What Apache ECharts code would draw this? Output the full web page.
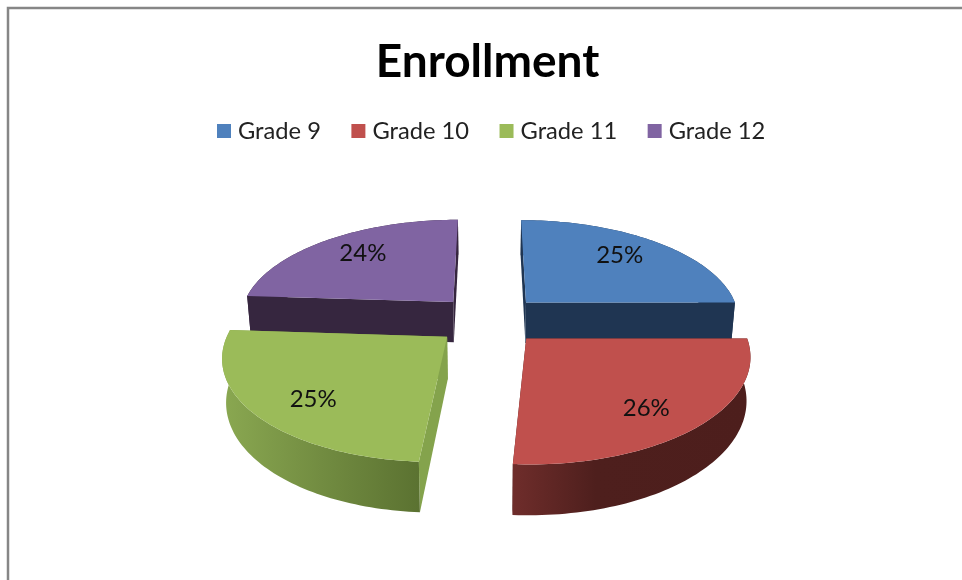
<!DOCTYPE html>
<html><head><meta charset="utf-8">
<style>html,body{margin:0;padding:0;background:#fff}#c{width:962px;height:580px}</style>
<script src="https://cdn.jsdelivr.net/npm/echarts@6/dist/echarts.min.js"></script>
</head><body><div id="c"></div>
<script>
const chartTitle = 'Enrollment';
const grades = ['Grade 9', 'Grade 10', 'Grade 11', 'Grade 12'];
const enrollment = [25, 26, 25, 24];
const topColors = ['#4f81bd', '#c0504d', '#9bbb59', '#8064a2'];
const radialWallColors = ['#1f3552', '#4e1f1d', '#84a34c', '#36263f'];

// Projection of the tilted, exploded pie (unit radius on the ground plane)
const P = {cx: 489, cy: 319.7, sx: 214.7, sy: 100, k: 0.155, skew: 0.015, depth: 41.5, shrink: 0.015, explode: 0.25, labelRx: 0.71, labelRy: 0.8, labelDy: 2};
const total = enrollment.reduce((a, b) => a + b, 0);
const toRad = v => v / total * Math.PI * 2;
const starts = enrollment.map((_, i) => toRad(enrollment.slice(0, i).reduce((a, b) => a + b, 0)));

function project(u, v, low) {
  const w = 1 - P.k * v;
  let x = P.sx * (u - P.skew * Math.max(v, 0)) / w, y = P.sy * v / w;
  if (low) { x *= 1 - P.shrink; y += P.depth / w; }
  return [P.cx + x, P.cy + y];
}
function sliceGeom(i) {
  const a0 = starts[i], a1 = a0 + toRad(enrollment[i]), mid = (a0 + a1) / 2;
  const ox = P.explode * Math.sin(mid), oy = -P.explode * Math.cos(mid);
  const at = (ang, r, low) => project(ox + r * Math.sin(ang), oy - r * Math.cos(ang), low);
  const arc = low => { const pts = []; for (let n = 0; n <= 72; n++) pts.push(at(a0 + (a1 - a0) * n / 72, 1, low)); return pts; };
  return {a0, a1, mid, at, arc, ox, oy, front: Math.cos(mid) < 0};
}
function grad(stops) {
  return new echarts.graphic.LinearGradient(0, 0, 1, 0, stops.map(c => ({offset: c[0], color: c[1]})));
}
const outerFill = [
  '#1f3552',
  grad([[0, '#6f2d2b'], [0.35, '#4e1f1d'], [1, '#4d1e1c']]),
  grad([[0, '#8aa851'], [0.5, '#728c41'], [1, '#5b7231']]),
  '#36263f'
];
function renderSlice(i) {
  return function (params, api) {
    const g = sliceGeom(i);
    const poly = (points, fill) => ({type: 'polygon', shape: {points}, style: {fill, stroke: null}});
    const apexT = g.at(0, 0, false), apexB = g.at(0, 0, true);
    const radial = ang => poly([apexT, g.at(ang, 1, false), g.at(ang, 1, true), apexB], radialWallColors[i]);
    const outer = poly(g.arc(false).concat(g.arc(true).reverse()), outerFill[i]);
    const walls = g.front ? [radial(g.a0), radial(g.a1), outer] : [outer, radial(g.a0), radial(g.a1)];
    const top = poly([apexT].concat(g.arc(false)), topColors[i]);
    const lp = project(g.ox + P.labelRx * Math.sin(g.mid), g.oy - P.labelRy * Math.cos(g.mid), false);
    const label = {type: 'text', x: lp[0], y: lp[1] + P.labelDy, style: {
      text: Math.round(api.value(0) / total * 100) + '%',
      fill: '#111', font: '24px Lato', align: 'center', verticalAlign: 'middle'}};
    return {type: 'group', children: walls.concat([top, label])};
  };
}
const chart = echarts.init(document.getElementById('c'), null, {renderer: 'canvas'});
chart.setOption({
  animation: false,
  backgroundColor: '#fff',
  title: {text: chartTitle, left: 482.5, top: 34, textAlign: 'center',
    textStyle: {fontFamily: 'Lato', fontSize: 46, fontWeight: 'bold', color: '#000'}},
  legend: {data: grades, left: 212, top: 114, icon: 'rect', itemWidth: 14, itemHeight: 14, itemGap: 30.5,
    textStyle: {fontFamily: 'Lato', fontSize: 23.7, color: '#222', padding: [0, 0, 0, 2]}},
  graphic: [{type: 'rect', shape: {x: 8, y: 8, width: 1200, height: 1200}, style: {fill: 'none', stroke: '#868686', lineWidth: 2.5}, silent: true}],
  series: grades.map((name, i) => ({
    type: 'custom', name, coordinateSystem: 'none', silent: true,
    z: sliceGeom(i).front ? 3 : 2,
    itemStyle: {color: topColors[i]},
    renderItem: renderSlice(i),
    data: [enrollment[i]]
  }))
});
</script></body></html>
